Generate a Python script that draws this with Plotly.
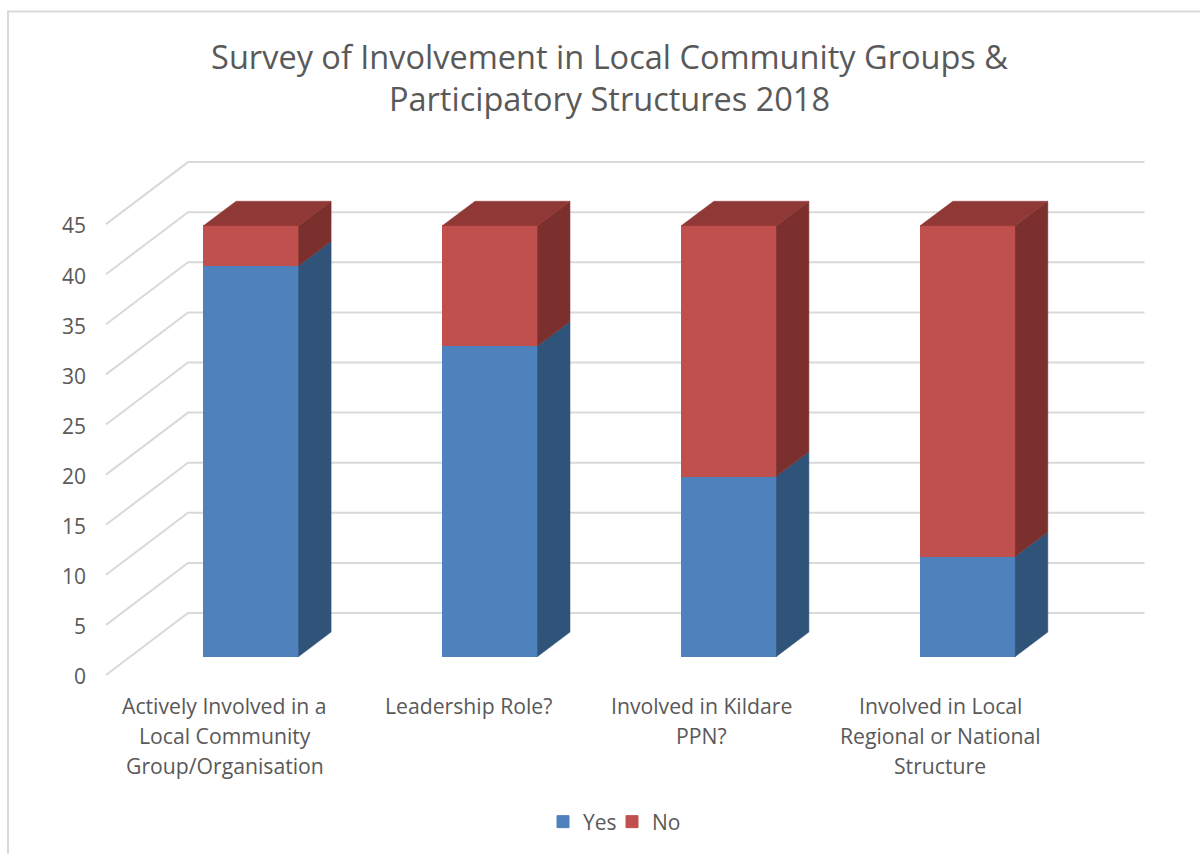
import plotly.graph_objects as go

# Survey responses per question
questions = [
    ["Actively Involved in a", "Local Community", "Group/Organisation"],
    ["Leadership Role?"],
    ["Involved in Kildare", "PPN?"],
    ["Involved in Local", "Regional or National", "Structure"],
]
yes_counts = [39, 31, 18, 10]
no_counts = [4, 12, 25, 33]
axis_ticks = [0, 5, 10, 15, 20, 25, 30, 35, 40, 45]
chart_title = "Survey of Involvement in Local Community Groups &<br>Participatory Structures 2018"

FONT = "Open Sans"
TEXT = "#595959"
GRID = "#d9d9d9"
BLUE, BLUE_SIDE = "#4f81bd", "#305379"
RED, RED_SIDE, RED_TOP = "#c0504d", "#7b302e", "#8f3836"

W, H = 1200, 854
# plot window in pixels
L, R, T, B = 100, 1150, 150, 690
PX_PER_VALUE = 10.02
PX_PER_CATEGORY = 238.9
BAR_W_PX = 95
DEPTH_X_PX, DEPTH_Y_PX = 32.4, 24.3
WALL_X_PX, WALL_Y_PX = 82, 62

AXIS_ZERO_PX = 675      # where value 0 sits on the labelled front edge
BAR_ZERO_PX = 656.4     # where value 0 sits on the bar front plane
LABEL_ORIGIN_PX = 224.5
BAR_ORIGIN_PX = 251.2
WALL_LEFT_PX, WALL_RIGHT_PX = 106, 1144.5


def x_range(origin):
    return [(L - origin) / PX_PER_CATEGORY, (R - origin) / PX_PER_CATEGORY]


def y_range(zero):
    return [(zero - B) / PX_PER_VALUE, (zero - T) / PX_PER_VALUE]


fig = go.Figure()

# Floor diagonals and back-wall gridlines
x_front = (WALL_LEFT_PX - LABEL_ORIGIN_PX) / PX_PER_CATEGORY
x_back = x_front + WALL_X_PX / PX_PER_CATEGORY
x_end = (WALL_RIGHT_PX - LABEL_ORIGIN_PX) / PX_PER_CATEGORY
wall_rise = WALL_Y_PX / PX_PER_VALUE
gx, gy = [], []
for v in axis_ticks:
    gx += [x_front, x_back, x_end, None]
    gy += [v, v + wall_rise, v + wall_rise, None]
fig.add_trace(go.Scatter(x=gx, y=gy, mode="lines", showlegend=False, hoverinfo="skip",
                         line=dict(color=GRID, width=2)))

# Front faces of the stacked columns
half = BAR_W_PX / PX_PER_CATEGORY / 2
positions = list(range(len(questions)))
fig.add_trace(go.Bar(x=positions, y=yes_counts, name="Yes", width=2 * half,
                     marker=dict(color=BLUE, line=dict(color=BLUE, width=1)),
                     xaxis="x2", yaxis="y2"))
fig.add_trace(go.Bar(x=positions, y=no_counts, name="No", width=2 * half,
                     marker=dict(color=RED, line=dict(color=RED, width=1)),
                     xaxis="x2", yaxis="y2"))

# Side and top faces, extruded from the same values
dx = DEPTH_X_PX / PX_PER_CATEGORY
dy = DEPTH_Y_PX / PX_PER_VALUE


def face(xs, ys, color):
    fig.add_trace(go.Scatter(x=xs, y=ys, mode="lines", fill="toself", fillcolor=color,
                             line=dict(color=color, width=0.5), showlegend=False,
                             hoverinfo="skip", xaxis="x2", yaxis="y2"))


for i, (yes, no) in enumerate(zip(yes_counts, no_counts)):
    right = i + half
    left = i - half
    total = yes + no
    face([right, right + dx, right + dx, right, right],
         [0, dy, yes + dy, yes, 0], BLUE_SIDE)
    face([right, right + dx, right + dx, right, right],
         [yes, yes + dy, total + dy, total, yes], RED_SIDE)
    face([left, right, right + dx, left + dx, left],
         [total, total, total + dy, total + dy, total], RED_TOP)

# Category labels, one annotation per line to hold the line pitch
LINE_Y_PX = [705, 735.2, 765]
LABEL_NUDGE_PX = [0, 5, -1, -1]
annotations = []
for i, lines in enumerate(questions):
    for j, text in enumerate(lines):
        annotations.append(dict(x=i, y=1 - LINE_Y_PX[j] / H, xref="x", yref="paper",
                                xshift=LABEL_NUDGE_PX[i], text=text, showarrow=False,
                                xanchor="center", yanchor="middle",
                                font=dict(family=FONT, size=21.2, color=TEXT)))

# Chart frame: left and top edges only
FRAME_X, FRAME_Y = 8 / W, 1 - 11.5 / H
frame = dict(type="path", xref="paper", yref="paper",
             path=f"M {FRAME_X},0 L {FRAME_X},{FRAME_Y} L 1,{FRAME_Y}",
             line=dict(color=GRID, width=2))

fig.update_layout(
    width=W, height=H, autosize=False,
    margin=dict(l=0, r=0, t=0, b=0, pad=0),
    paper_bgcolor="white", plot_bgcolor="rgba(0,0,0,0)",
    barmode="stack", hovermode=False,
    title=dict(text=chart_title, x=609.5 / W, xanchor="center", y=1 - 68.5 / H, yanchor="top",
               font=dict(family=FONT, size=32.5, color=TEXT)),
    xaxis=dict(domain=[L / W, R / W], range=x_range(LABEL_ORIGIN_PX), visible=False, fixedrange=True),
    yaxis=dict(domain=[1 - B / H, 1 - T / H], range=y_range(AXIS_ZERO_PX),
               tickvals=axis_ticks, ticktext=[str(v) for v in axis_ticks],
               showgrid=False, zeroline=False, showline=False, ticks="",
               ticklabelstandoff=13, ticklabelshift=2,
               tickfont=dict(family=FONT, size=21, color=TEXT),
               fixedrange=True),
    xaxis2=dict(domain=[L / W, R / W], range=x_range(BAR_ORIGIN_PX), visible=False,
                overlaying="x", anchor="y2", fixedrange=True),
    yaxis2=dict(domain=[1 - B / H, 1 - T / H], range=y_range(BAR_ZERO_PX), visible=False,
                overlaying="y", anchor="x2", fixedrange=True),
    legend=dict(orientation="h", x=0.4525, y=1 - 822 / H, xanchor="left", yanchor="middle",
                entrywidthmode="pixels", entrywidth=24,
                font=dict(family=FONT, size=21, color=TEXT), traceorder="normal",
                bgcolor="rgba(0,0,0,0)"),
    annotations=annotations,
    shapes=[frame],
)

fig.write_html("out.html", config={"displayModeBar": False})
